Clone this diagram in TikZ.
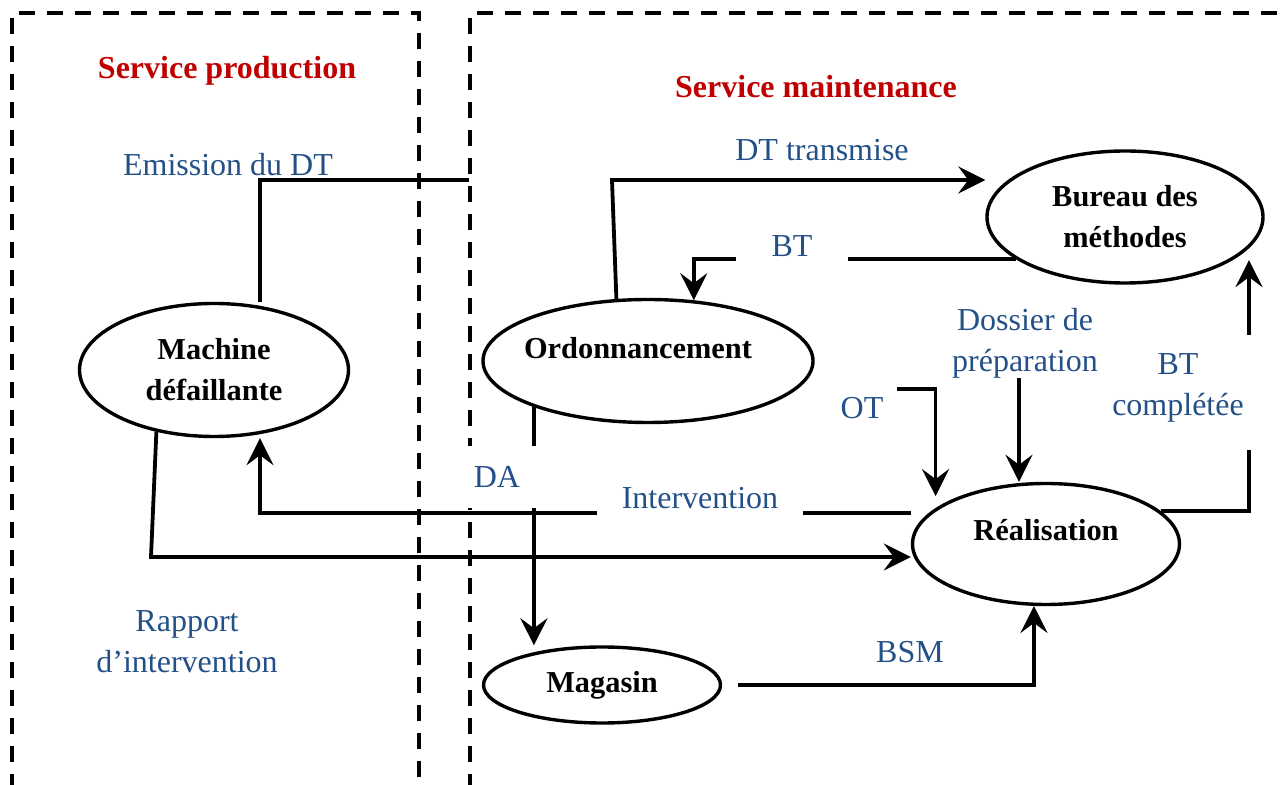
\documentclass[tikz,border=0pt]{standalone}
\usepackage{fontspec}
\setmainfont{Liberation Serif}
\usetikzlibrary{arrows.meta,shapes.geometric}
\definecolor{titlered}{RGB}{192,0,0}
\definecolor{flowblue}{RGB}{36,80,136}
\begin{document}
\begin{tikzpicture}[x=0.5pt,y=-0.5pt,
  frame/.style={line width=2pt, dash pattern=on 8pt off 6pt},
  unit/.style={ellipse, draw, line width=1.7pt, inner sep=0pt, align=center,
    font=\fontsize{15.2}{20.5}\selectfont\bfseries},
  unittext/.style={font=\fontsize{15.2}{20.5}\selectfont\bfseries},
  conn/.style={line width=1.9pt},
  arr/.style={conn, -{Stealth[length=13.5pt,width=13.5pt,inset=5pt]}},
  flow/.style={text=flowblue, align=center, font=\fontsize{16}{20.5}\selectfont},
  mask/.style={flow, fill=white, inner sep=0pt},
  title/.style={text=titlered, font=\fontsize{16}{19}\selectfont\bfseries}]
\useasboundingbox (0,0) rectangle (1287,785);

% service boundaries
\draw[frame] (12,790) |- (419,13) -- (419,790);
\draw[frame] (470,790) |- (1295,13);

\node[title] (tprod) at (227,71) {Service production};
\node[title] (tmain) at (816,87) {Service maintenance};

% process units
\node[unit, minimum width=134.5pt, minimum height=66.5pt] (mach) at (214,370) {Machine\\défaillante};
\node[unit, minimum width=165pt, minimum height=61.5pt,
  label={[unittext, name=ordotext, yshift=6.5pt, xshift=-5pt]center:Ordonnancement}] (ordo) at (648,361) {};
\node[unit, minimum width=138pt, minimum height=66pt] (bureau) at (1125,217) {Bureau des\\méthodes};
\node[unit, minimum width=133.5pt, minimum height=60.5pt,
  label={[unittext, name=realtext, yshift=7pt]center:Réalisation}] (real) at (1046,544) {};
\node[unit, minimum width=118.5pt, minimum height=38pt] (mag) at (602,685) {Magasin};

% free ends and bends
\coordinate (emc) at (260,180);
\coordinate (emend) at (469,180);
\coordinate (dtc) at (612,180);
\coordinate (otc) at (897,389);
\coordinate (dosc) at (1019,378);
\coordinate (bc1) at (1249,450);
\coordinate (bc2) at (1249,335);
\coordinate (intc) at (260,513);
\coordinate (rapc) at (151,557);

% flows
\draw[conn] (emc |- mach.north) -- (emc) -- (emend);
\draw[arr] (ordo.117) -- (dtc) -- (dtc -| bureau.west);
\draw[arr] (bureau.201) -| (ordo.53);
\draw[arr, shorten >=6pt] (otc) -| (real.162);
\draw[arr] (dosc) -- (dosc |- real.north);
\draw[conn] (real.16) -| (bc1);
\draw[arr, shorten >=7pt] (bc2) -- (bc2 |- bureau.-13);
\draw[arr] (real.west |- intc) -- (intc) -- (intc |- mach.south);
\draw[arr] (mach.227) -- (rapc) -- (rapc -| real.west);
\draw[arr] (ordo.202) -- (ordo.202 |- mag.north);
\draw[arr] ([xshift=8pt]mag.east) -| (real.259);

% flow labels
\node[mask, minimum width=56pt, minimum height=20pt] (lbt) at (792,246) {BT};
\node[mask, minimum width=103pt, minimum height=20pt] (lint) at (700,498) {Intervention};
\node[mask, minimum width=48pt, minimum height=31pt] (lda) at (497,477) {DA};
\node[flow] (lem) at (228,165) {Emission du DT};
\node[flow] (ldt) at (822,150) {DT transmise};
\node[flow] (ldos) at (1025,343.5) {Dossier de\\préparation};
\node[flow] (lot) at (862,408) {OT};
\node[flow] (lbtc) at (1178,388) {BT\\complétée};
\node[flow] (lrap) at (187,641.5) {Rapport\\d’intervention};
\node[flow] (lbsm) at (910,652) {BSM};
\end{tikzpicture}
\end{document}
